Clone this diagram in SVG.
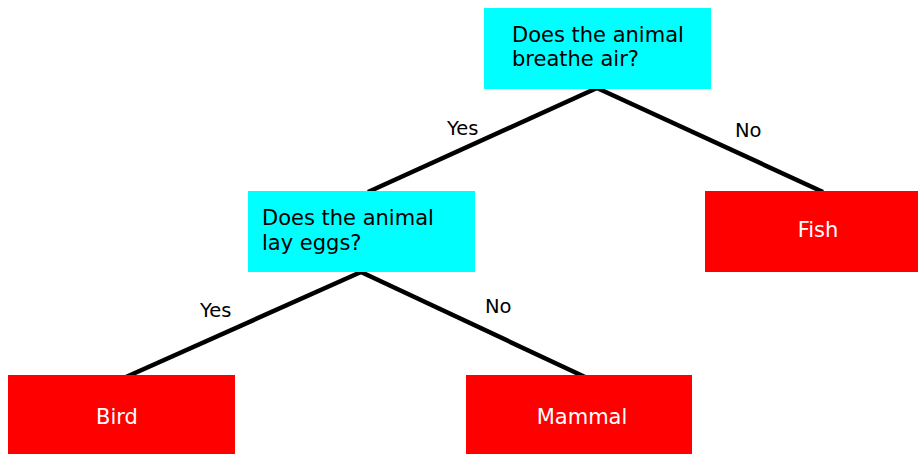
<svg xmlns="http://www.w3.org/2000/svg" width="918" height="454" viewBox="0 0 918 454">
<style>
.q{fill:#00ffff}
.l{fill:#ff0000}
.qt{font-family:"DejaVu Sans",sans-serif;font-size:21px;fill:#000}
.lt{font-family:"DejaVu Sans",sans-serif;font-size:21px;fill:#fff;text-anchor:middle}
.el{font-family:"DejaVu Sans",sans-serif;font-size:19.5px;fill:#000}
.e{stroke:#000;stroke-width:4.5;fill:none}
</style>
<rect width="918" height="454" fill="#fff"/>
<g id="connectors">
<line class="e" x1="597" y1="88" x2="368" y2="192"/>
<line class="e" x1="597" y1="88" x2="823" y2="192"/>
<line class="e" x1="361" y1="272" x2="126" y2="377"/>
<line class="e" x1="361" y1="272" x2="585" y2="377"/>
<text class="el" x="447" y="135">Yes</text>
<text class="el" x="735" y="137">No</text>
<text class="el" x="200" y="317">Yes</text>
<text class="el" x="485" y="313">No</text>
</g>
<g id="q1">
<rect class="q" x="484" y="8" width="227" height="81"/>
<text class="qt" x="512" y="42">Does the animal</text>
<text class="qt" x="512" y="66">breathe air?</text>
</g>
<g id="q2">
<rect class="q" x="248" y="191" width="227" height="81"/>
<text class="qt" x="262" y="225">Does the animal</text>
<text class="qt" x="262" y="250">lay eggs?</text>
</g>
<g id="fish">
<rect class="l" x="705" y="191" width="213" height="81"/>
<text class="lt" x="818" y="237">Fish</text>
</g>
<g id="bird">
<rect class="l" x="8" y="375" width="227" height="79"/>
<text class="lt" x="117" y="424">Bird</text>
</g>
<g id="mammal">
<rect class="l" x="466" y="375" width="226" height="79"/>
<text class="lt" x="582" y="424">Mammal</text>
</g>
</svg>
